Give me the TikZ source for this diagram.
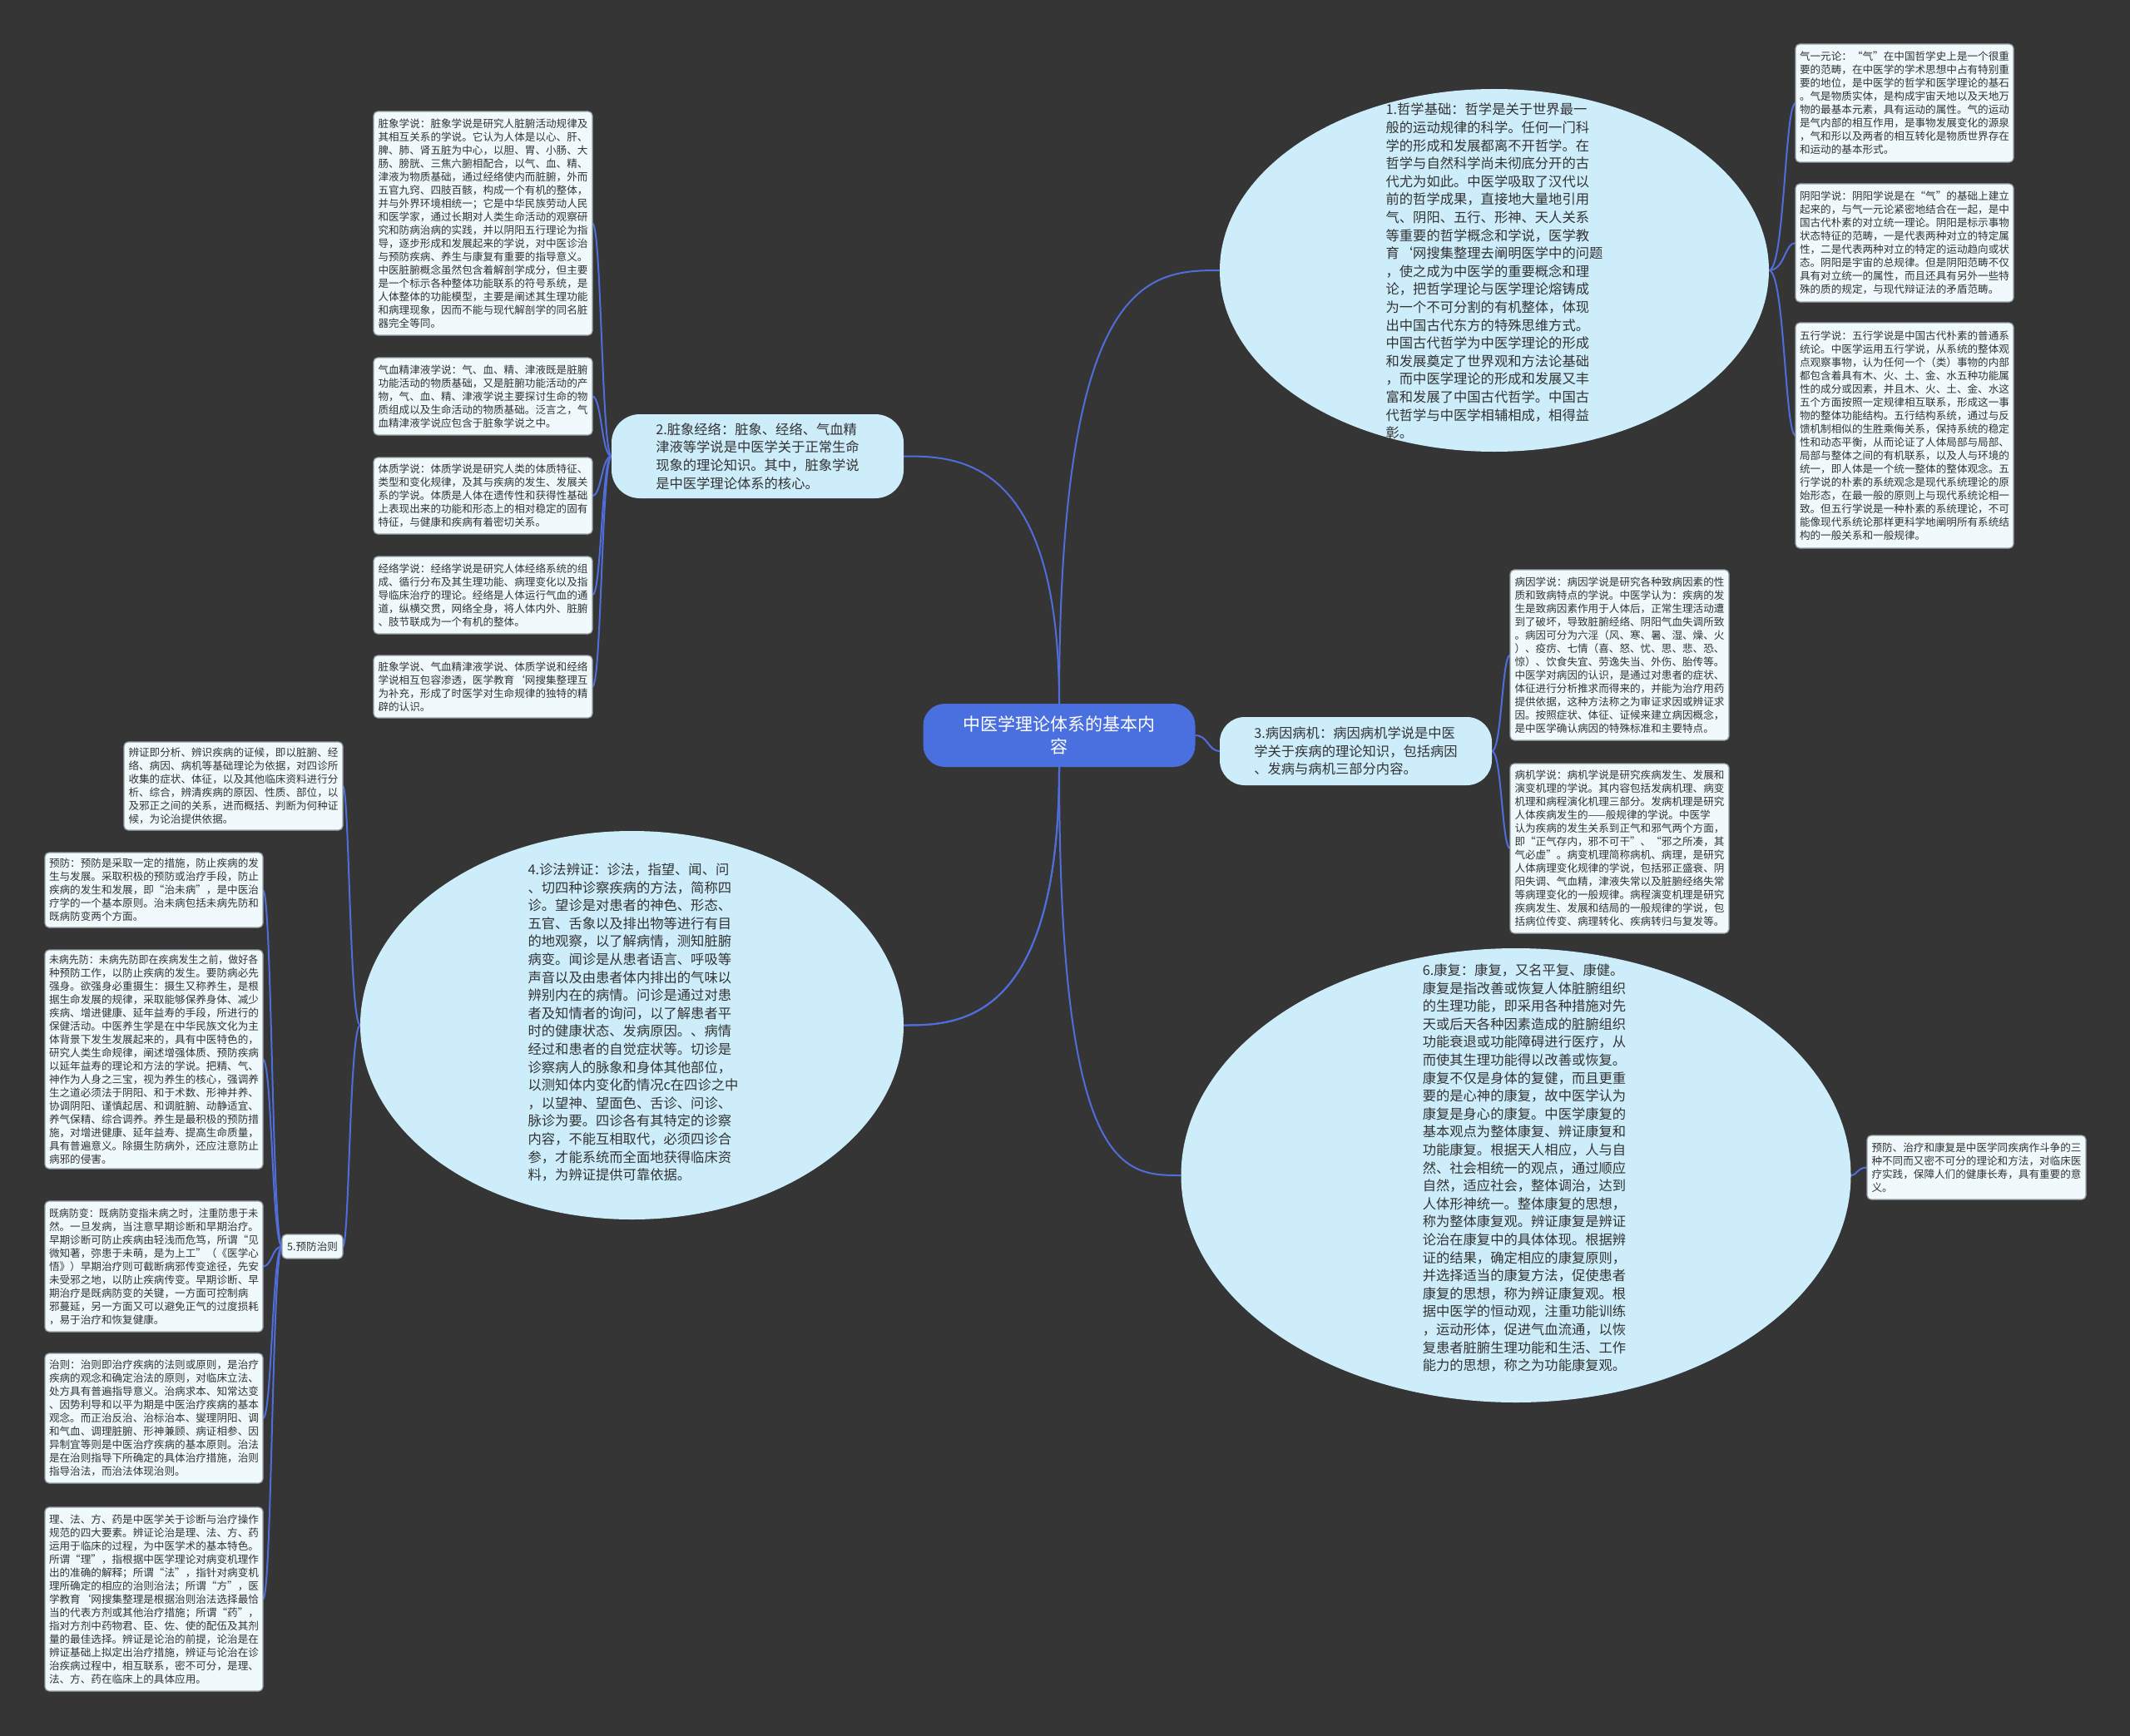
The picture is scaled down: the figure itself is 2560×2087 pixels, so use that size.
\documentclass[tikz,border=0pt]{standalone}
\usepackage{fontspec}
\setmainfont{Noto Sans CJK SC}
\usetikzlibrary{shapes.geometric}
\definecolor{bgc}{RGB}{53,53,53}
\definecolor{mainfill}{RGB}{205,237,251}
\definecolor{leaffill}{RGB}{240,250,253}
\definecolor{leafborder}{RGB}{150,160,166}
\definecolor{linec}{RGB}{79,110,219}
\definecolor{centerfill}{RGB}{74,111,222}
\definecolor{textc}{RGB}{51,51,51}
\newcommand\leaffont{\fontsize{12.6pt}{16pt}\selectfont}
\newcommand\mainfont{\fontsize{16.3pt}{21.6pt}\selectfont}
\newcommand\centerfont{\fontsize{21pt}{27pt}\selectfont}
\newcommand\sq[1]{\scalebox{0.95}[1]{#1}}
\pgfdeclarelayer{bg}
\pgfsetlayers{bg,main}
\tikzset{
  leaf/.style={draw=leafborder, line width=1.2pt, fill=leaffill, rounded corners=5pt,
    inner sep=0pt, outer sep=0pt, align=left, text=textc, font=\leaffont},
  mainbox/.style={fill=mainfill, rounded corners=34pt, inner sep=0pt, outer sep=0pt,
    align=left, text=textc, font=\mainfont},
  mainell/.style={ellipse, fill=mainfill, inner sep=0pt, outer sep=0pt},
  maintext/.style={align=left, text=textc, font=\mainfont, inner sep=0pt},
  centerbox/.style={fill=centerfill, rounded corners=26pt, inner sep=0pt, outer sep=0pt,
    align=center, text=white, font=\centerfont},
  conn/.style={draw=linec, line width=2pt}
}
\begin{document}
\begin{tikzpicture}[x=1pt,y=-1pt]
\useasboundingbox (0,0) rectangle (2560,2087);
\begin{pgfonlayer}{bg}
\fill[bgc] (0,0) rectangle (2560,2087);
\end{pgfonlayer}

% center
\node[centerbox, minimum width=327pt, minimum height=76pt] (c) at (1273,884) {中医学理论体系的基本内\\容};

% main nodes
\node[mainell, minimum width=660pt, minimum height=436pt] (n1) at (1796,325) {};
\node[maintext] (n1t) at (1796,326) {1.哲学基础：哲学是关于世界最一\\般的运动规律的科学。任何一门科\\学的形成和发展都离不开哲学。在\\哲学与自然科学尚未彻底分开的古\\代尤为如此。中医学吸取了汉代以\\前的哲学成果，直接地大量地引用\\气、阴阳、五行、形神、天人关系\\等重要的哲学概念和学说，医学教\\育`网搜集整理去阐明医学中的问题\\，使之成为中医学的重要概念和理\\论，把哲学理论与医学理论熔铸成\\为一个不可分割的有机整体，体现\\出中国古代东方的特殊思维方式。\\中国古代哲学为中医学理论的形成\\和发展奠定了世界观和方法论基础\\，而中医学理论的形成和发展又丰\\富和发展了中国古代哲学。中国古\\代哲学与中医学相辅相成，相得益\\彰。};

\node[mainbox, minimum width=351pt, minimum height=101pt] (n2) at (910.5,548.5) {2.脏象经络：脏象、经络、气血精\\津液等学说是中医学关于正常生命\\现象的理论知识。其中，脏象学说\\是中医学理论体系的核心。};

\node[mainbox, rounded corners=30pt, minimum width=327pt, minimum height=82pt] (n3) at (1629.5,903) {3.病因病机：病因病机学说是中医\\学关于疾病的理论知识，包括病因\\、发病与病机三部分内容。};

\node[mainell, minimum width=653pt, minimum height=467pt] (n4) at (759.5,1232.5) {};
\node[maintext] (n4t) at (761,1229) {4.诊法辨证：诊法，指望、闻、问\\、切四种诊察疾病的方法，简称四\\诊。望诊是对患者的神色、形态、\\五官、舌象以及排出物等进行有目\\的地观察，以了解病情，测知脏腑\\病变。闻诊是从患者语言、呼吸等\\声音以及由患者体内排出的气味以\\辨别内在的病情。问诊是通过对患\\者及知情者的询问，以了解患者平\\时的健康状态、发病原因。、病情\\经过和患者的自觉症状等。切诊是\\诊察病人的脉象和身体其他部位，\\以测知体内变化酌情况c在四诊之中\\，以望神、望面色、舌诊、问诊、\\脉诊为要。四诊各有其特定的诊察\\内容，不能互相取代，必须四诊合\\参，才能系统而全面地获得临床资\\料，为辨证提供可靠依据。};

\node[leaf, minimum width=73pt, minimum height=29pt] (n5) at (375.5,1498.5) {5.预防治则};

\node[mainell, minimum width=805pt, minimum height=546pt] (n6) at (1822,1413) {};
\node[maintext] (n6t) at (1832,1404) {6.康复：康复，又名平复、康健。\\康复是指改善或恢复人体脏腑组织\\的生理功能，即采用各种措施对先\\天或后天各种因素造成的脏腑组织\\功能衰退或功能障碍进行医疗，从\\而使其生理功能得以改善或恢复。\\康复不仅是身体的复健，而且更重\\要的是心神的康复，故中医学认为\\康复是身心的康复。中医学康复的\\基本观点为整体康复、辨证康复和\\功能康复。根据天人相应，人与自\\然、社会相统一的观点，通过顺应\\自然，适应社会，整体调治，达到\\人体形神统一。整体康复的思想，\\称为整体康复观。辨证康复是辨证\\论治在康复中的具体体现。根据辨\\证的结果，确定相应的康复原则，\\并选择适当的康复方法，促使患者\\康复的思想，称为辨证康复观。根\\据中医学的恒动观，注重功能训练\\，运动形体，促进气血流通，以恢\\复患者脏腑生理功能和生活、工作\\能力的思想，称之为功能康复观。};

% leaves of 1
\node[leaf, minimum width=262pt, minimum height=142pt] (qi) at (2289,124) {气一元论：“气”在中国哲学史上是一个很重\\要的范畴，在中医学的学术思想中占有特别重\\要的地位，是中医学的哲学和医学理论的基石\\。气是物质实体，是构成宇宙天地以及天地万\\物的最基本元素，具有运动的属性。气的运动\\是气内部的相互作用，是事物发展变化的源泉\\，气和形以及两者的相互转化是物质世界存在\\和运动的基本形式。};
\node[leaf, minimum width=262pt, minimum height=142pt] (yy) at (2289,292) {阴阳学说：阴阳学说是在“气”的基础上建立\\起来的，与气一元论紧密地结合在一起，是中\\国古代朴素的对立统一理论。阴阳是标示事物\\状态特征的范畴，一是代表两种对立的特定属\\性，二是代表两种对立的特定的运动趋向或状\\态。阴阳是宇宙的总规律。但是阴阳范畴不仅\\具有对立统一的属性，而且还具有另外一些特\\殊的质的规定，与现代辩证法的矛盾范畴。};
\node[leaf, minimum width=262pt, minimum height=271pt] (wx) at (2289,523.5) {五行学说：五行学说是中国古代朴素的普通系\\统论。中医学运用五行学说，从系统的整体观\\点观察事物，认为任何一个（类）事物的内部\\都包含着具有木、火、土、金、水五种功能属\\性的成分或因素，并且木、火、土、金、水这\\五个方面按照一定规律相互联系，形成这一事\\物的整体功能结构。五行结构系统，通过与反\\馈机制相似的生胜乘侮关系，保持系统的稳定\\性和动态平衡，从而论证了人体局部与局部、\\局部与整体之间的有机联系，以及人与环境的\\统一，即人体是一个统一整体的整体观念。五\\行学说的朴素的系统观念是现代系统理论的原\\始形态，在最一般的原则上与现代系统论相一\\致。但五行学说是一种朴素的系统理论，不可\\能像现代系统论那样更科学地阐明所有系统结\\构的一般关系和一般规律。};

% leaves of 2
\node[leaf, minimum width=263pt, minimum height=269pt] (zx) at (580.5,268.5) {脏象学说：脏象学说是研究人脏腑活动规律及\\其相互关系的学说。它认为人体是以心、肝、\\脾、肺、肾五脏为中心，以胆、胃、小肠、大\\肠、膀胱、三焦六腑相配合，以气、血、精、\\津液为物质基础，通过经络使内而脏腑，外而\\五官九窍、四肢百骸，构成一个有机的整体，\\并与外界环境相统一；它是中华民族劳动人民\\和医学家，通过长期对人类生命活动的观察研\\究和防病治病的实践，并以阴阳五行理论为指\\导，逐步形成和发展起来的学说，对中医诊治\\与预防疾病、养生与康复有重要的指导意义。\\中医脏腑概念虽然包含着解剖学成分，但主要\\是一个标示各种整体功能联系的符号系统，是\\人体整体的功能模型，主要是阐述其生理功能\\和病理现象，因而不能与现代解剖学的同名脏\\器完全等同。};
\node[leaf, minimum width=263pt, minimum height=93pt] (qx) at (580.5,476.5) {气血精津液学说：气、血、精、津液既是脏腑\\功能活动的物质基础，又是脏腑功能活动的产\\物，气、血、精、津液学说主要探讨生命的物\\质组成以及生命活动的物质基础。泛言之，气\\血精津液学说应包含于脏象学说之中。};
\node[leaf, minimum width=263pt, minimum height=92pt] (tz) at (580.5,596) {体质学说：体质学说是研究人类的体质特征、\\类型和变化规律，及其与疾病的发生、发展关\\系的学说。体质是人体在遗传性和获得性基础\\上表现出来的功能和形态上的相对稳定的固有\\特征，与健康和疾病有着密切关系。};
\node[leaf, minimum width=263pt, minimum height=93pt] (jl) at (580.5,715.5) {经络学说：经络学说是研究人体经络系统的组\\成、循行分布及其生理功能、病理变化以及指\\导临床治疗的理论。经络是人体运行气血的通\\道，纵横交贯，网络全身，将人体内外、脏腑\\、肢节联成为一个有机的整体。};
\node[leaf, minimum width=263pt, minimum height=75pt] (zxx) at (580.5,825.5) {脏象学说、气血精津液学说、体质学说和经络\\学说相互包容渗透，医学教育`网搜集整理互\\为补充，形成了时医学对生命规律的独特的精\\辟的认识。};

% leaves of 3
\node[leaf, minimum width=263pt, minimum height=205pt] (by) at (1946.5,787.5) {病因学说：病因学说是研究各种致病因素的性\\质和致病特点的学说。中医学认为：疾病的发\\生是致病因素作用于人体后，正常生理活动遭\\到了破坏，导致脏腑经络、阴阳气血失调所致\\。病因可分为六淫（风、寒、暑、湿、燥、火\\）、疫疠、七情（喜、怒、忧、思、悲、恐、\\惊）、饮食失宜、劳逸失当、外伤、胎传等。\\中医学对病因的认识，是通过对患者的症状、\\体征进行分析推求而得来的，并能为治疗用药\\提供依据，这种方法称之为审证求因或辨证求\\因。按照症状、体征、证候来建立病因概念，\\是中医学确认病因的特殊标准和主要特点。};
\node[leaf, minimum width=263pt, minimum height=204pt] (bj) at (1946.5,1020) {病机学说：病机学说是研究疾病发生、发展和\\演变机理的学说。其内容包括发病机理、病变\\机理和病程演化机理三部分。发病机理是研究\\人体疾病发生的——般规律的学说。中医学\\认为疾病的发生关系到正气和邪气两个方面，\\即“正气存内，邪不可干”、“邪之所凑，其\\气必虚”。病变机理简称病机、病理，是研究\\人体病理变化规律的学说，包括邪正盛衰、阴\\阳失调、气血精，津液失常以及脏腑经络失常\\等病理变化的一般规律。病程演变机理是研究\\疾病发生、发展和结局的一般规律的学说，包\\括病位传变、病理转化、疾病转归与复发等。};

% leaf of 4
\node[leaf, minimum width=263pt, minimum height=106pt] (bz) at (280.5,945) {辨证即分析、辨识疾病的证候，即以脏腑、经\\络、病因、病机等基础理论为依据，对四诊所\\收集的症状、体征，以及其他临床资料进行分\\析、综合，辨清疾病的原因、性质、部位，以\\及邪正之间的关系，进而概括、判断为何种证\\候，为论治提供依据。};

% leaves of 5
\node[leaf, minimum width=262pt, minimum height=90pt] (yf) at (185,1070) {预防：预防是采取一定的措施，防止疾病的发\\生与发展。采取积极的预防或治疗手段，防止\\疾病的发生和发展，即“治未病”，是中医治\\疗学的一个基本原则。治未病包括未病先防和\\既病防变两个方面。};
\node[leaf, minimum width=262pt, minimum height=263pt] (wb) at (185,1273.5) {\sq{未病先防：未病先防即在疾病发生之前，做好各}\\种预防工作，以防止疾病的发生。要防病必先\\强身。欲强身必重摄生：摄生又称养生，是根\\据生命发展的规律，采取能够保养身体、减少\\疾病、增进健康、延年益寿的手段，所进行的\\保健活动。中医养生学是在中华民族文化为主\\体背景下发生发展起来的，具有中医特色的，\\研究人类生命规律，阐述增强体质、预防疾病\\以延年益寿的理论和方法的学说。把精、气、\\神作为人身之三宝，视为养生的核心，强调养\\生之道必须法于阴阳、和于术数、形神并养、\\协调阴阳、谨慎起居、和调脏腑、动静适宜、\\养气保精、综合调养。养生是最积极的预防措\\施，对增进健康、延年益寿、提高生命质量，\\具有普遍意义。除摄生防病外，还应注意防止\\病邪的侵害。};
\node[leaf, minimum width=262pt, minimum height=157pt] (jb) at (185,1522.5) {\sq{既病防变：既病防变指未病之时，注重防患于未}\\然。一旦发病，当注意早期诊断和早期治疗。\\早期诊断可防止疾病由轻浅而危笃，所谓“见\\微知著，弥患于未萌，是为上工”（《医学心\\悟》）早期治疗则可截断病邪传变途径，先安\\未受邪之地，以防止疾病传变。早期诊断、早\\期治疗是既病防变的关键，一方面可控制病\\邪蔓延，另一方面又可以避免正气的过度损耗\\，易于治疗和恢复健康。};
\node[leaf, minimum width=262pt, minimum height=156pt] (zz) at (185,1705) {治则：治则即治疗疾病的法则或原则，是治疗\\疾病的观念和确定治法的原则，对临床立法、\\处方具有普遍指导意义。治病求本、知常达变\\、因势利导和以平为期是中医治疗疾病的基本\\观念。而正治反治、治标治本、燮理阴阳、调\\和气血、调理脏腑、形神兼顾、病证相参、因\\异制宜等则是中医治疗疾病的基本原则。治法\\是在治则指导下所确定的具体治疗措施，治则\\指导治法，而治法体现治则。};
\node[leaf, minimum width=262pt, minimum height=221pt] (lf) at (185,1922.5) {理、法、方、药是中医学关于诊断与治疗操作\\规范的四大要素。辨证论治是理、法、方、药\\运用于临床的过程，为中医学术的基本特色。\\所谓“理”，指根据中医学理论对病变机理作\\出的准确的解释；所谓“法”，指针对病变机\\理所确定的相应的治则治法；所谓“方”，医\\学教育`网搜集整理是根据治则治法选择最恰\\当的代表方剂或其他治疗措施；所谓“药”，\\指对方剂中药物君、臣、佐、使的配伍及其剂\\量的最佳选择。辨证是论治的前提，论治是在\\辨证基础上拟定出治疗措施，辨证与论治在诊\\治疾病过程中，相互联系，密不可分，是理、\\法、方、药在临床上的具体应用。};

% leaf of 6
\node[leaf, minimum width=263pt, minimum height=77pt] (yf6) at (2375.5,1403.5) {预防、治疗和康复是中医学同疾病作斗争的三\\种不同而又密不可分的理论和方法，对临床医\\疗实践，保障人们的健康长寿，具有重要的意\\义。};

% connectors
\begin{pgfonlayer}{bg}
\draw[conn] (c.north) .. controls (1273,330) and (1380,325) .. (n1.west);
\draw[conn] (c.north) .. controls (1273,548.5) and (1150,548.5) .. (n2.east);
\draw[conn] (c.east) .. controls (1452,884) and (1452,903) .. (n3.west);
\draw[conn] (c.south) .. controls (1273,1232.5) and (1150,1232.5) .. (n4.east);
\draw[conn] (c.south) .. controls (1273,1232.5) and (1150,1232.5) .. (n4.east) -- (n4.west) .. controls (420,1232.5) and (420,1498.5) .. (n5.east);
\draw[conn] (c.south) .. controls (1273,1413) and (1350,1413) .. (n6.west);

\draw[conn] (n1.east) .. controls (2145,325) and (2145,124) .. (qi.west);
\draw[conn] (n1.east) .. controls (2145,325) and (2145,292) .. (yy.west);
\draw[conn] (n1.east) .. controls (2145,325) and (2145,523.5) .. (wx.west);

\draw[conn] (n2.west) .. controls (723,548.5) and (723,268.5) .. (zx.east);
\draw[conn] (n2.west) .. controls (723,548.5) and (723,476.5) .. (qx.east);
\draw[conn] (n2.west) .. controls (723,548.5) and (723,596) .. (tz.east);
\draw[conn] (n2.west) .. controls (723,548.5) and (723,715.5) .. (jl.east);
\draw[conn] (n2.west) .. controls (723,548.5) and (723,825.5) .. (zxx.east);

\draw[conn] (n3.east) .. controls (1805,903) and (1805,787.5) .. (by.west);
\draw[conn] (n3.east) .. controls (1805,903) and (1805,1020) .. (bj.west);

\draw[conn] (n4.west) .. controls (420,1232.5) and (420,945) .. (bz.east);

\draw[conn] (n5.west) .. controls (327,1498.5) and (327,1070) .. (yf.east);
\draw[conn] (n5.west) .. controls (327,1498.5) and (327,1273.5) .. (wb.east);
\draw[conn] (n5.west) .. controls (327,1498.5) and (327,1522.5) .. (jb.east);
\draw[conn] (n5.west) .. controls (327,1498.5) and (327,1705) .. (zz.east);
\draw[conn] (n5.west) .. controls (327,1498.5) and (327,1922.5) .. (lf.east);

\draw[conn] (n6.east) .. controls (2232,1413) and (2232,1403.5) .. (yf6.west);
\end{pgfonlayer}
\end{tikzpicture}
\end{document}
